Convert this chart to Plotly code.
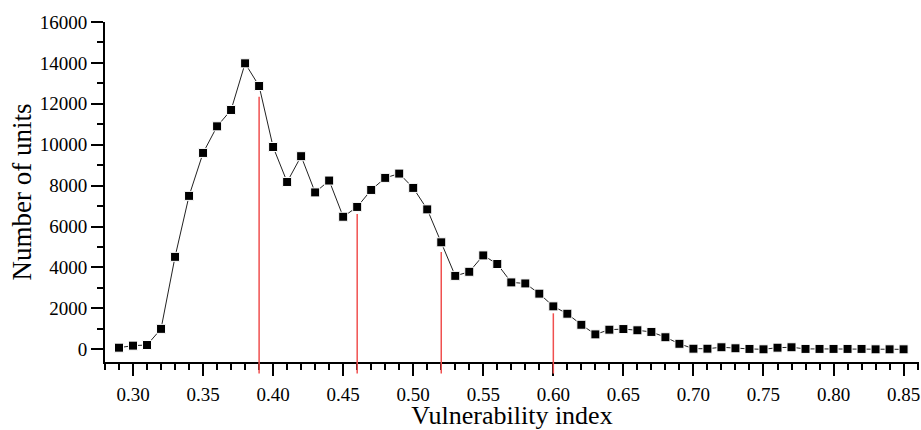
import plotly.graph_objects as go

x_values = [round(0.29 + 0.01 * i, 2) for i in range(57)]
units = [80, 180, 210, 1000, 4520, 7500, 9600, 10900, 11700, 13980,
         12870, 9890, 8180, 9440, 7670, 8250, 6480, 6960, 7790, 8380,
         8590, 7890, 6840, 5230, 3590, 3790, 4590, 4170, 3270, 3220,
         2720, 2100, 1740, 1200, 730, 960, 990, 930, 850, 590,
         270, 30, 30, 100, 50, 20, 0, 80, 100, 20,
         20, 20, 20, 20, 0, 0, 0]

red_x = [0.39, 0.46, 0.52, 0.60]
red_top = [12340, 6610, 4760, 1760]

y_min, y_max = -620, 16000
x_min, x_max = 0.28, 0.861

font_family = "Liberation Serif, Times New Roman, serif"

fig = go.Figure()
fig.add_trace(go.Scatter(
    x=x_values, y=units, mode="lines+markers",
    line=dict(color="#222222", width=1),
    marker=dict(symbol="square", size=9, color="black",
                line=dict(color="white", width=1)),
    showlegend=False,
))

shapes = []
for xv, top in zip(red_x, red_top):
    shapes.append(dict(type="line", xref="x", yref="y", x0=xv, x1=xv,
                       y0=y_min, y1=top, line=dict(color="#f0504f", width=1.5),
                       layer="below"))
    shapes.append(dict(type="line", xref="x", yref="paper", x0=xv, x1=xv,
                       y0=-0.034, y1=0, line=dict(color="#f0504f", width=1.5),
                       layer="above"))

fig.update_layout(
    width=921, height=430,
    margin=dict(l=105, r=2, t=22, b=68),
    paper_bgcolor="white", plot_bgcolor="white",
    font=dict(family=font_family, color="black", size=19),
    shapes=shapes,
    xaxis=dict(
        range=[x_min, x_max], tick0=0.30, dtick=0.05, tickformat=".2f",
        showline=True, linecolor="black", linewidth=2,
        ticks="outside", ticklen=12, tickwidth=2, tickcolor="black",
        minor=dict(dtick=0.01, tick0=0.30, ticks="outside", ticklen=6, tickwidth=2,
                   tickcolor="black"),
        showgrid=False, zeroline=False, automargin=False,
        ticklabeloverflow="allow", ticklabelstandoff=2,
        tickfont=dict(size=19, family=font_family),
        title=dict(text="Vulnerability index", font=dict(size=26, family=font_family),
                   standoff=0),
    ),
    yaxis=dict(
        range=[y_min, y_max], tick0=0, dtick=2000, tickformat="d",
        showline=True, linecolor="black", linewidth=2,
        ticks="outside", ticklen=12, tickwidth=2, tickcolor="black",
        minor=dict(dtick=1000, tick0=0, ticks="outside", ticklen=6, tickwidth=2,
                   tickcolor="black"),
        showgrid=False, zeroline=False, automargin=False,
        tickfont=dict(size=19, family=font_family),
        title=dict(text="Number of units", font=dict(size=27, family=font_family),
                   standoff=0),
    ),
)

fig.write_html("out.html", config={"displayModeBar": False},
               post_script="document.body.style.margin='0';")
